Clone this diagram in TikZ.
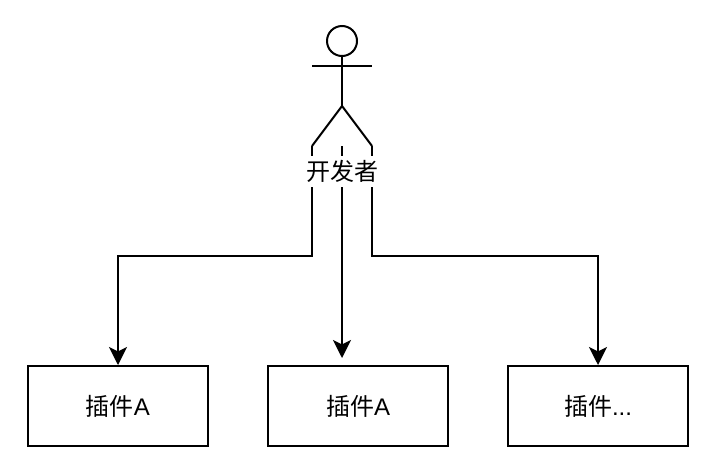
\documentclass[tikz,border=0pt]{standalone}
\usepackage{fontspec}
\setmainfont{Liberation Sans}
\newfontfamily\cjk{Noto Sans CJK SC}
\usetikzlibrary{positioning, arrows.meta}

\begin{document}
\begin{tikzpicture}[
    x=1pt, y=-1pt, line width=2pt,
    pluginbox/.style={draw, minimum width=180pt, minimum height=80pt, align=center, inner sep=0pt, font=\fontsize{24}{28}\selectfont},
    actorlabel/.style={fill=white, inner sep=0pt, minimum width=74pt, minimum height=31pt, font=\fontsize{24}{28}\selectfont},
    flow/.style={draw, -{Stealth[length=18pt, width=18pt, inset=4.5pt]}}
]
\useasboundingbox (0,0) rectangle (714,472);
\node[pluginbox] (pluginA) at (118,406) {{\cjk 插件}A};
\node[pluginbox, right=58pt of pluginA] (pluginB) {{\cjk 插件}A};
\node[pluginbox, right=58pt of pluginB] (pluginC) {{\cjk 插件}...};

% stick figure
\node[draw, circle, inner sep=0pt, minimum size=30pt] (head) at (342,41) {};
\coordinate (armL) at (312,66);
\coordinate (armR) at (372,66);
\coordinate (hip) at (342,106);
\coordinate (legL) at (312,146);
\coordinate (legM) at (342,146);
\coordinate (legR) at (372,146);
\coordinate (tipB) at (342,358);
\draw (head.south) -- (hip);
\draw (armL) -- (armR);
\draw (legL) -- (hip) -- (legR);

% connectors
\path[flow] (legL) -- (312,256) -| (pluginA.north);
\path[flow] (legM) -- (tipB);
\path[flow] (legR) -- (372,256) -| (pluginC.north);

\node[actorlabel] (dev) at (342,171.5) {\cjk 开发者};
\end{tikzpicture}
\end{document}
